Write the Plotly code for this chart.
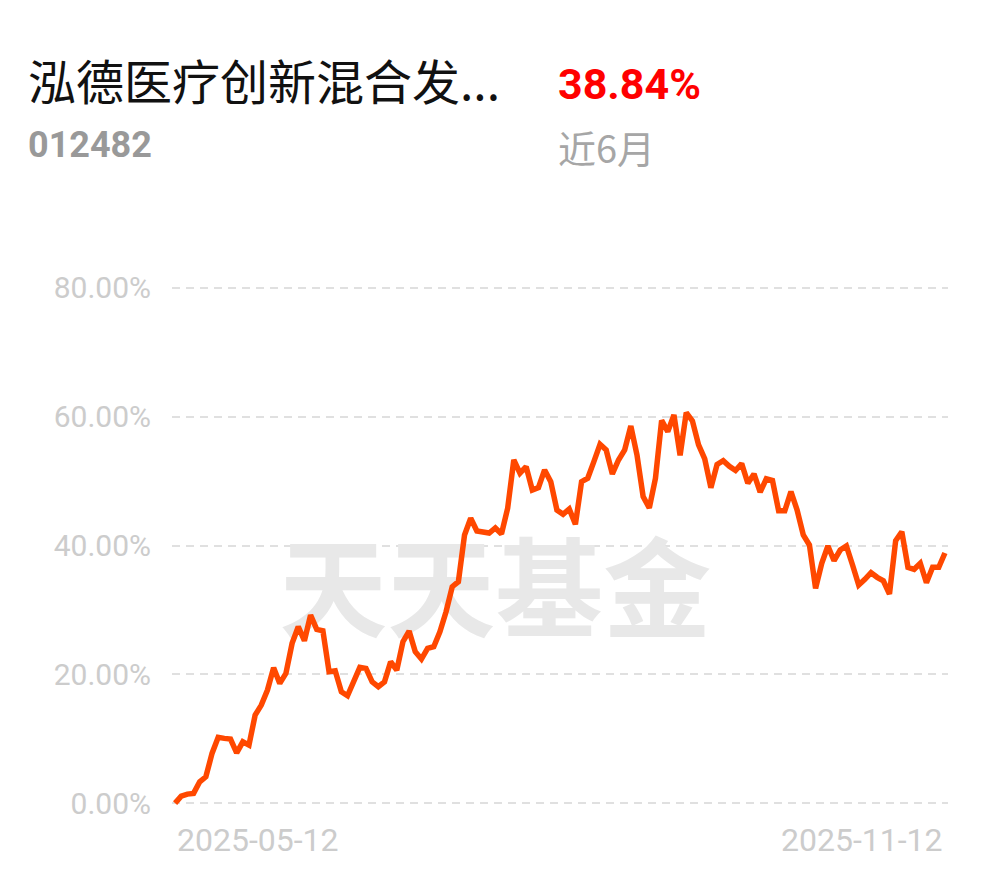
import plotly.graph_objects as go

# cumulative return (%) per trading day, 2025-05-12 .. 2025-11-12
returns = [
    0.00, 1.09, 1.40, 1.51, 3.31, 4.09, 7.72, 10.21, 10.05, 9.94,
    7.81, 9.52, 9.01, 13.67, 15.22, 17.55, 21.02, 18.59, 20.15, 24.81,
    27.39, 25.21, 29.20, 26.98, 26.77, 20.40, 20.55, 17.29, 16.67, 18.84,
    21.08, 20.92, 18.84, 18.07, 18.84, 21.95, 20.66, 25.06, 26.72, 23.50,
    22.37, 24.03, 24.28, 26.61, 29.72, 33.60, 34.38, 41.63, 44.23, 42.25,
    42.10, 41.94, 42.72, 41.79, 45.78, 53.28, 51.22, 52.24, 48.62, 48.98,
    51.73, 49.91, 45.51, 44.85, 45.67, 43.29, 49.91, 50.44, 53.02, 55.72,
    54.83, 51.11, 53.28, 54.83, 58.56, 54.06, 47.58, 45.83, 50.44, 59.42,
    57.68, 60.27, 53.98, 60.63, 59.34, 55.61, 53.44, 48.96, 52.58, 53.16,
    52.30, 51.65, 52.72, 49.66, 51.11, 48.28, 50.36, 50.10, 45.39, 45.39,
    48.36, 45.51, 41.63, 40.08, 33.35, 37.24, 39.92, 37.64, 39.30, 39.92,
    36.97, 33.86, 34.75, 35.77, 35.06, 34.53, 32.47, 40.75, 42.14, 36.61,
    36.30, 37.24, 34.22, 36.61, 36.61, 38.84,
]
days = list(range(len(returns)))
date_labels = ["2025-05-12", "2025-11-12"]
y_ticks = [0, 20, 40, 60, 80]
y_tick_text = [f"{v:.2f}%" for v in y_ticks]

fund_name = "泓德医疗创新混合发..."
fund_code = "012482"
period_return = "38.84%"
period_label = "近6月"

CJK = "Noto Sans CJK SC, sans-serif"
NUM = "Roboto, sans-serif"

fig = go.Figure()

# watermark sits behind the line
fig.add_trace(go.Scatter(
    x=[52], y=[31.2], mode="text", text=["天天基金"],
    textfont=dict(family=CJK, size=108, color="#e8e8e8", weight="bold"),
    hoverinfo="skip", showlegend=False,
))

fig.add_trace(go.Scatter(
    x=days, y=returns, mode="lines",
    line=dict(color="#ff4800", width=5.5),
    showlegend=False,
))

fig.update_layout(
    width=990, height=878,
    margin=dict(l=164, r=50, t=267, b=70),
    paper_bgcolor="white", plot_bgcolor="white",
    xaxis=dict(range=[-0.5, len(returns) - 0.5], showgrid=False, zeroline=False,
               showticklabels=False, showline=False),
    yaxis=dict(range=[-2, 82], tickvals=y_ticks, ticktext=y_tick_text,
               showgrid=True, gridcolor="#e0e0e0", gridwidth=2, griddash="8px,6px",
               zeroline=False, showline=False, ticks="", ticklabelstandoff=20,
               tickfont=dict(family="Roboto, sans-serif", size=30, color="#cccccc")),
)

fig.add_annotation(x=0, y=-0.045, xref="x", yref="paper", text=date_labels[0],
                   showarrow=False, xanchor="left", yanchor="middle",
                   font=dict(family="Roboto, sans-serif", size=32, color="#cccccc"))
fig.add_annotation(x=days[-1], y=-0.045, xref="x", yref="paper", text=date_labels[1],
                   showarrow=False, xanchor="right", yanchor="middle",
                   font=dict(family="Roboto, sans-serif", size=32, color="#cccccc"))

fig.add_annotation(x=-0.188, y=1.362, xref="paper", yref="paper", text=fund_name,
                   showarrow=False, xanchor="left", yanchor="middle",
                   font=dict(family=CJK, size=48, color="#111111"))
fig.add_annotation(x=-0.188, y=1.24, xref="paper", yref="paper", text=f"<b>{fund_code}</b>",
                   showarrow=False, xanchor="left", yanchor="middle",
                   font=dict(family=NUM, size=36, color="#999999"))
fig.add_annotation(x=0.495, y=1.353, xref="paper", yref="paper", text=f"<b>{period_return}</b>",
                   showarrow=False, xanchor="left", yanchor="middle",
                   font=dict(family=NUM, size=43, color="#ff0000"))
fig.add_annotation(x=0.495, y=1.237, xref="paper", yref="paper", text=period_label,
                   showarrow=False, xanchor="left", yanchor="middle",
                   font=dict(family=CJK, size=38, color="#a6a6a6"))

fig.write_html("out.html")
